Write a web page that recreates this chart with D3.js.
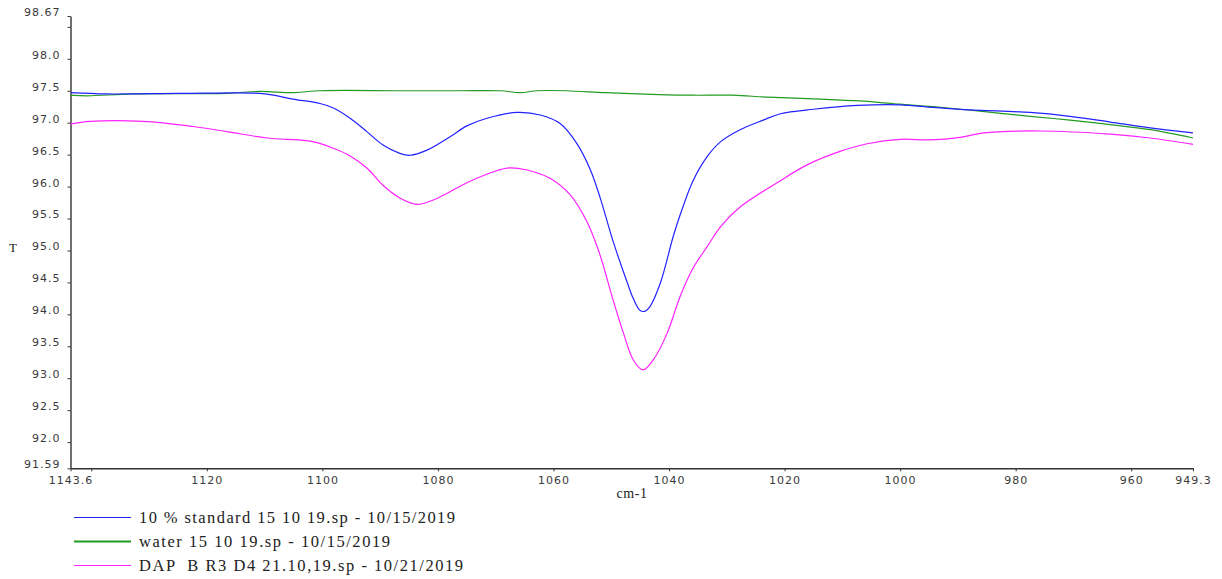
<!DOCTYPE html>
<html>
<head>
<meta charset="utf-8">
<script src="https://cdn.jsdelivr.net/npm/d3@7"></script>
<style>
  html, body { margin: 0; padding: 0; background: #fff; }
  svg { display: block; }
</style>
</head>
<body>
<svg id="chart" width="1222" height="579"></svg>
<script>
// ---------- data ----------
const seriesNames = [
  "10 % standard 15 10 19.sp - 10/15/2019",
  "water 15 10 19.sp - 10/15/2019",
  "DAP  B R3 D4 21.10,19.sp - 10/21/2019"
];

const standardWn = [1143.5,1137.3,1124.6,1110.8,1108.5,1105.1,1100.4,1098.1,1095.2,1092.3,1089.5,1086.6,1084.8,1081.9,1077.9,1075.0,1071.5,1066.3,1062.3,1058.9,1056.0,1053.6,1051.9,1049.7,1047.2,1046.2,1045.0,1044.1,1043.3,1041.5,1039.3,1038.1,1035.8,1033.4,1031.1,1027.7,1023.7,1020.7,1015.0,1007.4,1000.0,994.3,987.9,977.5,970.6,963.6,956.7,949.3];
const standardT  = [97.47,97.45,97.46,97.46,97.43,97.37,97.30,97.23,97.07,96.86,96.65,96.52,96.49,96.57,96.78,96.95,97.07,97.16,97.12,96.99,96.68,96.26,95.82,95.15,94.49,94.25,94.06,94.05,94.12,94.49,95.21,95.55,96.10,96.47,96.70,96.89,97.04,97.14,97.21,97.27,97.28,97.24,97.20,97.16,97.10,97.01,96.92,96.84];

const waterWn = [1143.6,1140.7,1132.8,1116.5,1110.8,1105.1,1100.4,1086.5,1076.2,1069.2,1065.8,1062.8,1057.8,1050.9,1041.7,1035.8,1028.9,1023.0,1013.9,1007.0,1000.0,994.3,986.2,977.5,970.6,963.6,956.7,949.3];
const waterT  = [97.43,97.42,97.45,97.46,97.49,97.47,97.50,97.50,97.50,97.50,97.47,97.50,97.50,97.47,97.44,97.43,97.43,97.40,97.37,97.34,97.29,97.25,97.18,97.10,97.04,96.97,96.89,96.76];

const dapWn = [1143.6,1140.2,1131.0,1122.4,1116.5,1109.6,1102.1,1098.1,1095.2,1092.3,1089.5,1086.6,1083.6,1080.8,1077.9,1075.0,1072.2,1068.0,1064.6,1060.6,1057.1,1054.2,1052.4,1051.4,1049.7,1047.9,1046.2,1044.5,1042.7,1040.3,1038.0,1035.8,1033.4,1031.1,1027.7,1021.3,1016.1,1010.4,1005.7,1000.0,994.8,989.6,985.6,975.7,963.6,956.7,949.3];
const dapT  = [96.98,97.02,97.02,96.94,96.86,96.76,96.71,96.60,96.48,96.29,96.02,95.82,95.72,95.79,95.92,96.06,96.17,96.29,96.26,96.13,95.87,95.45,95.05,94.77,94.23,93.71,93.29,93.13,93.29,93.71,94.30,94.73,95.06,95.37,95.68,96.06,96.34,96.55,96.67,96.74,96.73,96.77,96.84,96.87,96.82,96.76,96.66];

const xTickValues = [1143.6,1140,1120,1100,1080,1060,1040,1020,1000,980,960,949.3];
const xTickLabels = ["1143.6","","1120","1100","1080","1060","1040","1020","1000","980","960","949.3"];
const yTickValues = [91.59,92.0,92.5,93.0,93.5,94.0,94.5,95.0,95.5,96.0,96.5,97.0,97.5,98.0,98.5,98.67];
const yTickLabels = ["91.59","92.0","92.5","93.0","93.5","94.0","94.5","95.0","95.5","96.0","96.5","97.0","97.5","98.0","","98.67"];

const xTitle = "cm-1";
const yTitle = "T";

// ---------- drawing ----------
const colors = ["#2222ff", "#239a23", "#ff22ff"];
const svg = d3.select("#chart");

const x = d3.scaleLinear().domain([1143.6, 949.3]).range([70.5, 1193]);
const y = d3.scaleLinear().domain([91.59, 98.67]).range([468.3, 16]);

const tickFont = "'DejaVu Sans', Verdana, sans-serif";
const serif = "'Liberation Serif', 'Times New Roman', serif";

// x axis
const xAxis = d3.axisBottom(x)
  .tickValues(xTickValues)
  .tickFormat((d, i) => xTickLabels[i])
  .tickSizeInner(3).tickSizeOuter(0).tickPadding(5);
const gx = svg.append("g").attr("transform", `translate(0,${y(91.59)})`).call(xAxis);
gx.select(".domain").attr("stroke", "#333").attr("stroke-width", 1.4);
gx.selectAll(".tick line").attr("stroke", "#333");
gx.selectAll(".tick text")
  .attr("fill", "#3a3a3a").attr("font-family", tickFont).attr("font-size", 11)
  .style("letter-spacing", "1px");

// y axis
const yAxis = d3.axisLeft(y)
  .tickValues(yTickValues)
  .tickFormat((d, i) => yTickLabels[i])
  .tickSizeInner(3).tickSizeOuter(0).tickPadding(7);
const gy = svg.append("g").attr("transform", `translate(${x(1143.6)},0)`).call(yAxis);
gy.select(".domain").attr("stroke", "#333").attr("stroke-width", 1.4);
gy.selectAll(".tick line").attr("stroke", "#333");
gy.selectAll(".tick text")
  .attr("fill", "#3a3a3a").attr("font-family", tickFont).attr("font-size", 11)
  .attr("dy", "-0.05em")
  .style("letter-spacing", "1px");

// titles
svg.append("text").attr("x", 632).attr("y", 498).attr("text-anchor", "middle")
  .attr("font-family", serif).attr("font-size", 14).attr("fill", "#222")
  .style("letter-spacing", "0.5px").text(xTitle);
svg.append("text").attr("x", 13).attr("y", 252).attr("text-anchor", "middle")
  .attr("font-family", serif).attr("font-size", 13).attr("fill", "#222").text(yTitle);

// lines
const series = [
  { wn: standardWn, t: standardT },
  { wn: waterWn, t: waterT },
  { wn: dapWn, t: dapT }
];
const line = d3.line().x(d => x(d[0])).y(d => y(d[1])).curve(d3.curveCatmullRom.alpha(0.5));
const plot = svg.append("g");
[1, 0, 2].forEach(i => {
  const s = series[i];
  const pts = s.wn.map((w, k) => [w, s.t[k]]);
  plot.append("path").datum(pts).attr("d", line)
    .attr("fill", "none").attr("stroke", colors[i]).attr("stroke-width", 1.2);
});

// legend
const legendY = [517.5, 541.5, 565.5];
const legendW = [316, 251, 324];
const lg = svg.append("g");
seriesNames.forEach((name, i) => {
  lg.append("line").attr("x1", 74).attr("x2", 131)
    .attr("y1", legendY[i]).attr("y2", legendY[i])
    .attr("stroke", colors[i]).attr("stroke-width", i === 1 ? 1.8 : 1.2);
  lg.append("text").attr("x", 139).attr("y", legendY[i] + 5)
    .attr("font-family", serif).attr("font-size", 16.5).attr("fill", "#222")
    .attr("xml:space", "preserve").style("white-space", "pre")
    .attr("textLength", legendW[i]).attr("lengthAdjust", "spacing")
    .text(name);
});
</script>
</body>
</html>
